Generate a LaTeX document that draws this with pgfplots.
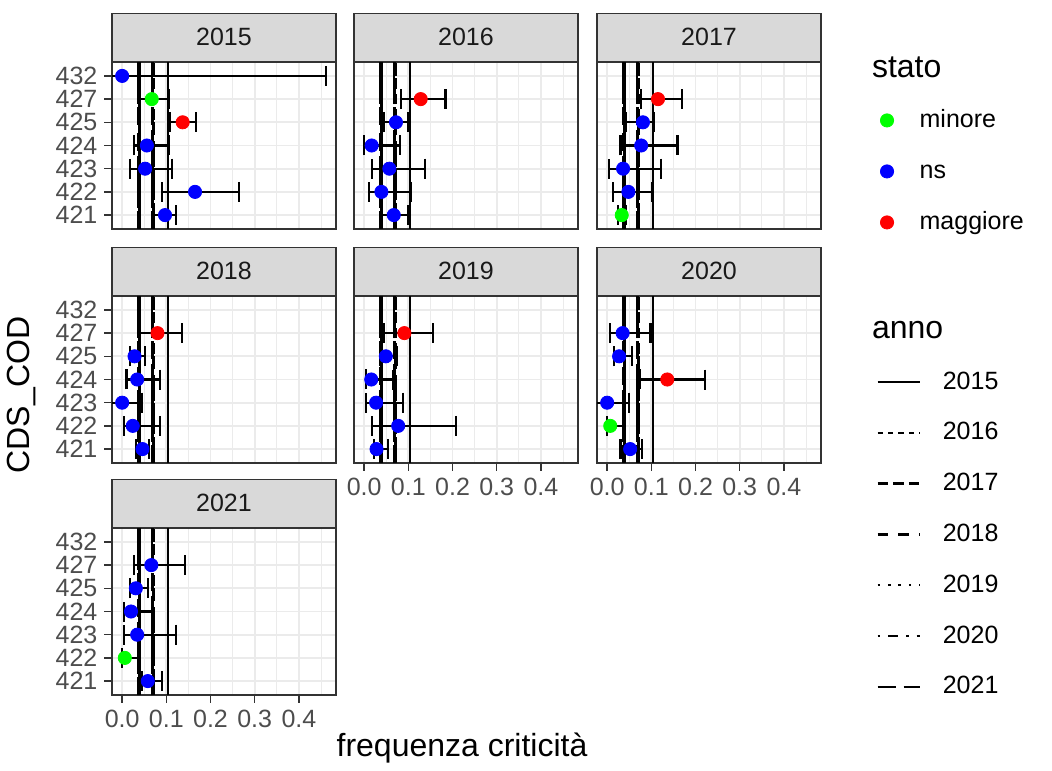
\documentclass[border=0pt]{standalone}
\usepackage{fontspec}
\setmainfont{Liberation Sans}
\usepackage{pgfplots}
\usepackage{pgfplotstable}
\pgfplotsset{compat=1.18}
\definecolor{grey10}{HTML}{1A1A1A}
\definecolor{grey20}{HTML}{333333}
\definecolor{grey30}{HTML}{4D4D4D}
\definecolor{grey85}{HTML}{D9D9D9}
\definecolor{grey92}{HTML}{EBEBEB}
\definecolor{ggreen}{HTML}{00FF00}
\definecolor{gblue}{HTML}{0000FF}
\definecolor{gred}{HTML}{FF0000}

% y: 1=421 2=422 3=423 4=424 5=425 6=427 7=432 ; s: g=minore b=ns r=maggiore
\pgfplotstableread{
y x lo hi s
1 0.097 0.071 0.122 b
2 0.165 0.090 0.264 b
3 0.052 0.017 0.112 b
4 0.056 0.026 0.105 b
5 0.137 0.108 0.168 r
6 0.067 0.041 0.105 g
7 0.000 0.000 0.462 b
}\dA
\pgfplotstableread{
y x lo hi s
1 0.067 0.040 0.099 b
2 0.039 0.011 0.105 b
3 0.057 0.018 0.138 b
4 0.017 0.000 0.081 b
5 0.072 0.044 0.099 b
6 0.128 0.084 0.184 r
}\dB
\pgfplotstableread{
y x lo hi s
1 0.033 0.024 0.042 g
2 0.048 0.014 0.101 b
3 0.036 0.004 0.122 b
4 0.077 0.030 0.159 b
5 0.081 0.042 0.105 b
6 0.115 0.076 0.170 r
}\dC
\pgfplotstableread{
y x lo hi s
1 0.046 0.032 0.060 b
2 0.024 0.004 0.086 b
3 0.000 0.000 0.045 b
4 0.034 0.010 0.085 b
5 0.028 0.017 0.052 b
6 0.080 0.041 0.135 r
}\dD
\pgfplotstableread{
y x lo hi s
1 0.028 0.022 0.054 b
2 0.077 0.018 0.207 b
3 0.027 0.005 0.088 b
4 0.016 0.004 0.065 b
5 0.049 0.035 0.074 b
6 0.091 0.044 0.155 r
}\dE
\pgfplotstableread{
y x lo hi s
1 0.052 0.030 0.078 b
2 0.007 0.000 0.035 g
3 0.000 0.000 0.050 b
4 0.136 0.074 0.222 r
5 0.027 0.016 0.057 b
6 0.035 0.007 0.098 b
}\dF
\pgfplotstableread{
y x lo hi s
1 0.058 0.045 0.090 b
2 0.006 0.000 0.040 g
3 0.034 0.004 0.122 b
4 0.020 0.004 0.067 b
5 0.031 0.017 0.058 b
6 0.066 0.026 0.142 b
}\dG

\tikzset{
  a15/.style={black, line width=1.2pt, solid},
  a16/.style={black, line width=1.2pt, dash pattern=on 2.6pt off 2.6pt},
  a17/.style={black, line width=1.2pt, dash pattern=on 5.2pt off 2.6pt},
  a18/.style={black, line width=1.2pt, dash pattern=on 5.2pt off 5.2pt},
  a19/.style={black, line width=1.2pt, dash pattern=on 1.3pt off 3.9pt},
  a20/.style={black, line width=1.2pt, dash pattern=on 1.3pt off 3.9pt on 5.2pt off 3.9pt},
  a21/.style={black, line width=1.2pt, dash pattern=on 9.1pt off 3.9pt},
  strip/.style={draw=grey20, line width=0.7pt, fill=grey85, minimum width=112pt, minimum height=24pt, inner sep=0pt, anchor=south, font=\fontsize{12.5}{15}\selectfont, text=grey10},
}

\newcommand\vlines{%
\addplot[a15] coordinates {(0.039,0.4) (0.039,7.6)};
\addplot[a15] coordinates {(0.104,0.4) (0.104,7.6)};
\addplot[a16] coordinates {(0.038,0.4) (0.038,7.6)};
\addplot[a16] coordinates {(0.069,0.4) (0.069,7.6)};
\addplot[a17] coordinates {(0.039,0.4) (0.039,7.6)};
\addplot[a17] coordinates {(0.071,0.4) (0.071,7.6)};
\addplot[a18] coordinates {(0.037,0.4) (0.037,7.6)};
\addplot[a18] coordinates {(0.068,0.4) (0.068,7.6)};
\addplot[a19] coordinates {(0.038,0.4) (0.038,7.6)};
\addplot[a19] coordinates {(0.070,0.4) (0.070,7.6)};
\addplot[a20] coordinates {(0.040,0.4) (0.040,7.6)};
\addplot[a20] coordinates {(0.072,0.4) (0.072,7.6)};
\addplot[a21] coordinates {(0.037,0.4) (0.037,7.6)};
\addplot[a21] coordinates {(0.069,0.4) (0.069,7.6)};
}

\pgfplotsset{
  panel/.style={
    scale only axis, width=112pt, height=83.5pt, anchor=north west,
    xmin=-0.023, xmax=0.484, ymin=0.4, ymax=7.6,
    xtick={0,0.1,0.2,0.3,0.4}, minor xtick={0.05,0.15,0.25,0.35,0.45},
    ytick={1,2,3,4,5,6,7},
    xticklabels={}, yticklabels={},
    grid=both,
    major grid style={grey92, line width=0.9pt},
    minor grid style={grey92, line width=0.45pt},
    axis line style={grey20, line width=0.7pt},
    tick align=outside, major tick length=3.8pt, minor tick length=0pt,
    tick style={grey20, line width=0.7pt},
    tick pos=left,
    tick label style={font=\fontsize{12.5}{15}\selectfont, text=grey30},
  },
  noxt/.style={xtick style={draw=none}},
  noyt/.style={ytick style={draw=none}},
  xlab/.style={xticklabels={0.0,0.1,0.2,0.3,0.4}},
  ylab/.style={yticklabels={421,422,423,424,425,427,432}},
  errs/.style={black, only marks, mark=none,
    error bars/.cd, x dir=both, x explicit,
    error bar style={black, line width=1.1pt, solid},
    error mark options={black, line width=1.1pt, mark size=5pt, solid, rotate=90}},
  pts/.style={scatter, only marks, mark=*, mark size=3.3pt,
    scatter src=explicit symbolic,
    scatter/classes={g={draw=ggreen,fill=ggreen}, b={draw=gblue,fill=gblue}, r={draw=gred,fill=gred}}},
}

\newcommand\panel[6]{%
\begin{axis}[panel, name=#1, at={(#2pt,#3pt)}, #6]
\vlines
\addplot[errs] table[x=x, y=y, x error plus expr=\thisrow{hi}-\thisrow{x}, x error minus expr=\thisrow{x}-\thisrow{lo}] {#4};
\addplot[pts] table[x=x, y=y, meta=s] {#4};
\end{axis}
\node[strip] at (#1.north) {#5};
}

\begin{document}
\begin{tikzpicture}
\path[use as bounding box] (0pt,0pt) rectangle (526pt,-385pt);

\panel{pA}{56}{-31}{\dA}{2015}{ylab,noxt}
\panel{pB}{177}{-31}{\dB}{2016}{noxt,noyt}
\panel{pC}{298.5}{-31}{\dC}{2017}{noxt,noyt}
\panel{pD}{56}{-148}{\dD}{2018}{ylab,noxt}
\panel{pE}{177}{-148}{\dE}{2019}{xlab,noyt}
\panel{pF}{298.5}{-148}{\dF}{2020}{xlab,noyt}
\panel{pG}{56}{-264}{\dG}{2021}{xlab,ylab}

\node[rotate=90, font=\fontsize{16}{19}\selectfont] at (11pt,-197.5pt) {CDS\_COD};
\node[font=\fontsize{16}{19}\selectfont] at (231pt,-374pt) {frequenza criticità};

\node[anchor=west, inner sep=0pt, font=\fontsize{16}{19}\selectfont] at (435.8pt,-33.5pt) {stato};
\node[anchor=west, inner sep=0pt, font=\fontsize{16}{19}\selectfont] at (435.8pt,-165pt) {anno};

\begin{axis}[hide axis, scale only axis, width=526pt, height=385pt, at={(0pt,-385pt)}, anchor=south west,
  xmin=0, xmax=1, ymin=0, ymax=1,
  legend cell align=left,
  legend style={at={(0.8365,0.8610)}, anchor=north west, draw=none, fill=none, inner sep=0pt,
    row sep=12.5pt, column sep=13pt, font=\fontsize{12.5}{15}\selectfont,
    nodes={inner sep=0pt, text height=10pt, text depth=3pt}}]
\addlegendimage{only marks, mark=*, mark size=3.3pt, draw=ggreen, fill=ggreen}
\addlegendentry{minore}
\addlegendimage{only marks, mark=*, mark size=3.3pt, draw=gblue, fill=gblue}
\addlegendentry{ns}
\addlegendimage{only marks, mark=*, mark size=3.3pt, draw=gred, fill=gred}
\addlegendentry{maggiore}
\end{axis}

\begin{axis}[hide axis, scale only axis, width=526pt, height=385pt, at={(0pt,-385pt)}, anchor=south west,
  xmin=0, xmax=1, ymin=0, ymax=1,
  legend cell align=left,
  legend image code/.code={\draw[#1] (0pt,0pt) -- (21pt,0pt);},
  legend style={at={(0.8327,0.5212)}, anchor=north west, draw=none, fill=none, inner sep=0pt,
    row sep=12.4pt, column sep=11pt, font=\fontsize{12.5}{15}\selectfont,
    nodes={inner sep=0pt, text height=10pt, text depth=3pt}}]
\addlegendimage{a15}\addlegendentry{2015}
\addlegendimage{a16}\addlegendentry{2016}
\addlegendimage{a17}\addlegendentry{2017}
\addlegendimage{a18}\addlegendentry{2018}
\addlegendimage{a19}\addlegendentry{2019}
\addlegendimage{a20}\addlegendentry{2020}
\addlegendimage{a21}\addlegendentry{2021}
\end{axis}
\end{tikzpicture}
\end{document}
